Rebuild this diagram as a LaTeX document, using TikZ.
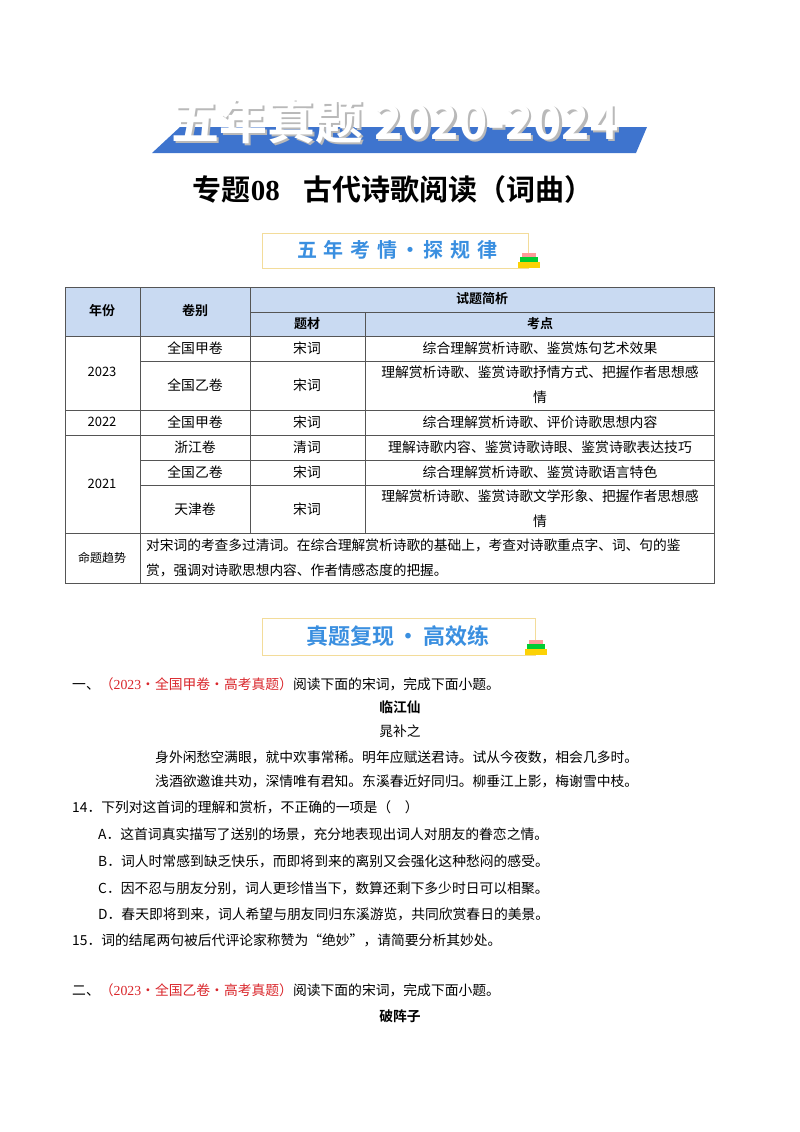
\documentclass[tikz,border=0pt]{standalone}
\usepackage{fontspec}
\setmainfont{Noto Sans CJK SC}
\newfontfamily\cjk{Noto Sans CJK SC}
\newfontfamily\cjkb{Noto Sans CJK SC Bold}
\newfontfamily\numf{Liberation Serif}
\definecolor{bannerblue}{HTML}{3E74CE}
\definecolor{headfill}{HTML}{C9DAF2}
\definecolor{titleblue}{HTML}{3A8FE0}
\definecolor{boxborder}{HTML}{F3DC9A}
\definecolor{redsrc}{HTML}{D9262B}
\definecolor{gridc}{HTML}{555555}
\begin{document}
\begin{tikzpicture}[x=1pt,y=-1pt,
  body/.style={anchor=west,inner sep=0pt,font=\fontsize{13.8}{16}\selectfont},
  cell/.style={inner sep=0pt,align=center,font=\fontsize{13.8}{25}\selectfont},
  hcell/.style={inner sep=0pt,font=\cjkb\fontsize{13}{15}\selectfont},
  secbox/.style={draw=boxborder,line width=1pt,fill=white,inner sep=0pt}]
\useasboundingbox (0,0) rectangle (800,1132);
% banner
\fill[bannerblue] (152,153) -- (180,127) -- (647,127) -- (636,153) -- cycle;
\node[text=gray!55,font=\cjkb\fontsize{48}{48}\selectfont] at (397.5,123.5) {五年真题 2020-2024};
\node (banner) [text=white,font=\cjkb\fontsize{48}{48}\selectfont] at (395,121) {五年真题 2020-2024};
\node (title) [font=\cjkb\fontsize{29}{29}\selectfont] at (393,189) {专题{\numf\bfseries 08}\hspace{0.8em}古代诗歌阅读（词曲）};
% section box 1
\draw[secbox] (262,233) rectangle (528,268);
\node (sec1) [text=titleblue,font=\cjkb\fontsize{20}{20}\selectfont] at (397,250) {五\,\,年\,\,考\,\,情\,·\,探\,\,规\,\,律};
\fill[yellow!70!orange] (518,262) rectangle (540,268);
\fill[green!60!teal] (520,257) rectangle (538,262);
\fill[pink!80!red] (522,253) rectangle (536,257);
% table
\fill[headfill] (65,287) rectangle (714,336);
\draw[gridc,line width=0.6pt] (65,287) rectangle (714,583);
\draw[gridc,line width=0.6pt] (250,312) -- (714,312);
\draw[gridc,line width=0.6pt] (65,336) -- (714,336);
\draw[gridc,line width=0.6pt] (140,287) -- (140,583);
\draw[gridc,line width=0.6pt] (250,287) -- (250,533);
\draw[gridc,line width=0.6pt] (365,312) -- (365,533);
\draw[gridc,line width=0.6pt] (140,361) -- (714,361);
\draw[gridc,line width=0.6pt] (65,410) -- (714,410);
\draw[gridc,line width=0.6pt] (65,435) -- (714,435);
\draw[gridc,line width=0.6pt] (140,460) -- (714,460);
\draw[gridc,line width=0.6pt] (140,485) -- (714,485);
\draw[gridc,line width=0.6pt] (65,533) -- (714,533);
\node (h1) [hcell] at (102,311) {年份};
\node (h2) [hcell] at (195,311) {卷别};
\node (h3) [hcell] at (482,299) {试题简析};
\node (h4) [hcell] at (307,324) {题材};
\node (h5) [hcell] at (540,324) {考点};
\node (y23) [cell,font=\fontsize{13}{15}\selectfont] at (102,372) {2023};
\node (y22) [cell,font=\fontsize{13}{15}\selectfont] at (102,422) {2022};
\node (y21) [cell,font=\fontsize{13}{15}\selectfont] at (102,484) {2021};
\node (a1) [cell] at (195,348) {全国甲卷};
\node (b1) [cell] at (307,348) {宋词};
\node (c1) [cell] at (540,348) {综合理解赏析诗歌、鉴赏炼句艺术效果};
\node (a2) [cell] at (195,385) {全国乙卷};
\node (b2) [cell] at (307,385) {宋词};
\node (c2) [cell] at (540,385) {理解赏析诗歌、鉴赏诗歌抒情方式、把握作者思想感\\情};
\node (a3) [cell] at (195,422) {全国甲卷};
\node (b3) [cell] at (307,422) {宋词};
\node (c3) [cell] at (540,422) {综合理解赏析诗歌、评价诗歌思想内容};
\node (a4) [cell] at (195,447) {浙江卷};
\node (b4) [cell] at (307,447) {清词};
\node (c4) [cell] at (540,447) {理解诗歌内容、鉴赏诗歌诗眼、鉴赏诗歌表达技巧};
\node (a5) [cell] at (195,472) {全国乙卷};
\node (b5) [cell] at (307,472) {宋词};
\node (c5) [cell] at (540,472) {综合理解赏析诗歌、鉴赏诗歌语言特色};
\node (a6) [cell] at (195,509) {天津卷};
\node (b6) [cell] at (307,509) {宋词};
\node (c6) [cell] at (540,509) {理解赏析诗歌、鉴赏诗歌文学形象、把握作者思想感\\情};
\node (trend) [cell,font=\fontsize{12}{14}\selectfont] at (102,558) {命题趋势};
\node (trendtxt) [cell,anchor=west,align=left,font=\fontsize{13.7}{25}\selectfont] at (146,558) {对宋词的考查多过清词。在综合理解赏析诗歌的基础上，考查对诗歌重点字、词、句的鉴\\赏，强调对诗歌思想内容、作者情感态度的把握。};
% section box 2
\draw[secbox] (262,618) rectangle (535,655);
\node (sec2) [text=titleblue,font=\cjkb\fontsize{22}{22}\selectfont] at (398,636) {真题复现\,·\,高效练};
\fill[yellow!70!orange] (525,649) rectangle (547,655);
\fill[green!60!teal] (527,644) rectangle (545,649);
\fill[pink!80!red] (529,640) rectangle (543,644);
% question 1
\node (q1) [body] at (72,684) {一、\textcolor{redsrc}{（{\numf 2023}·全国甲卷·高考真题）}阅读下面的宋词，完成下面小题。};
\node (p1t) [inner sep=0pt,font=\cjkb\fontsize{13.8}{16}\selectfont] at (400,707) {临江仙};
\node (p1a) [inner sep=0pt,font=\fontsize{13.8}{16}\selectfont] at (400,731) {晁补之};
\node (p1l1) [body] at (155,757) {身外闲愁空满眼，就中欢事常稀。明年应赋送君诗。试从今夜数，相会几多时。};
\node (p1l2) [body] at (155,781) {浅酒欲邀谁共劝，深情唯有君知。东溪春近好同归。柳垂江上影，梅谢雪中枝。};
\node (q14) [body] at (72,807) {14．下列对这首词的理解和赏析，不正确的一项是（\quad）};
\node (qa) [body] at (98,834) {A．这首词真实描写了送别的场景，充分地表现出词人对朋友的眷恋之情。};
\node (qb) [body] at (98,861) {B．词人时常感到缺乏快乐，而即将到来的离别又会强化这种愁闷的感受。};
\node (qc) [body] at (98,888) {C．因不忍与朋友分别，词人更珍惜当下，数算还剩下多少时日可以相聚。};
\node (qd) [body] at (98,914) {D．春天即将到来，词人希望与朋友同归东溪游览，共同欣赏春日的美景。};
\node (q15) [body] at (72,940) {15．词的结尾两句被后代评论家称赞为“绝妙”，请简要分析其妙处。};
% question 2
\node (q2) [body] at (72,990) {二、\textcolor{redsrc}{（{\numf 2023}·全国乙卷·高考真题）}阅读下面的宋词，完成下面小题。};
\node (p2t) [inner sep=0pt,font=\cjkb\fontsize{13.8}{16}\selectfont] at (400,1016) {破阵子};
\end{tikzpicture}
\end{document}
